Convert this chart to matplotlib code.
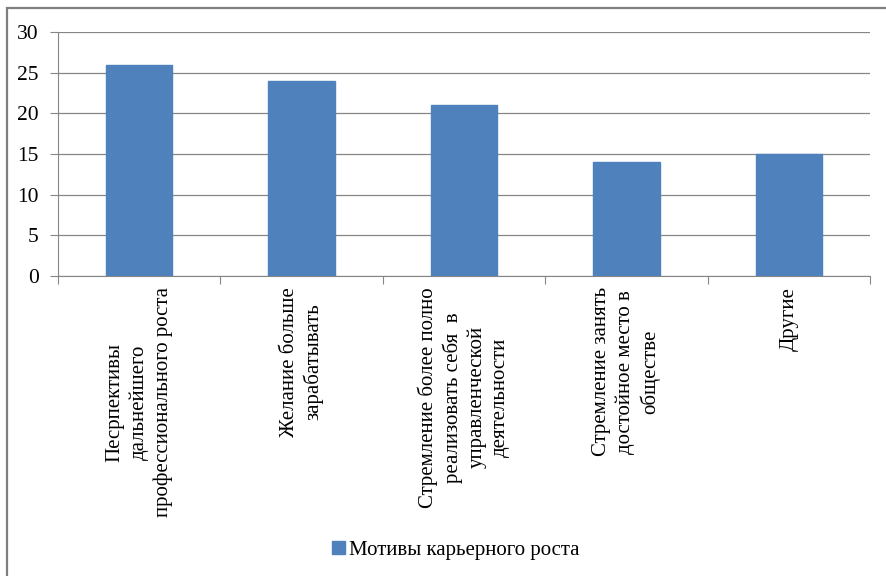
import matplotlib.pyplot as plt
from matplotlib.patches import Rectangle

categories = [
    "Песрпективы\nдальнейшего\nпрофессионального роста",
    "Желание больше\nзарабатывать",
    "Стремление более полно\nреализовать себя  в\nуправленческой\nдеятельности",
    "Стремление занять\nдостойное место в\nобществе",
    "Другие",
]
values = [26, 24, 21, 14, 15]
series_name = "Мотивы карьерного роста"

plt.rcParams['font.family'] = ['Liberation Serif', 'DejaVu Serif']

fig = plt.figure(figsize=(8.86, 5.76), dpi=100)
ax = fig.add_axes([58 / 886, 1 - 276 / 576, 812 / 886, 244 / 576])

x = list(range(len(categories)))
ax.bar(x, values, width=0.41, color='#4f81bd', edgecolor='#4f81bd', zorder=3, label=series_name)

ax.set_xlim(-0.5, len(categories) - 0.5)
ax.set_ylim(0, 30)
ax.set_yticks(range(0, 31, 5))
ax.grid(axis='y', color='#868686', linewidth=0.9, zorder=0)
ax.tick_params(axis='y', labelsize=15.5, length=6, color='#868686', pad=8)

ax.set_xticks([i - 0.5 for i in range(len(categories) + 1)])
ax.set_xticklabels([])
ax.tick_params(axis='x', length=6, color='#868686')
for i, lab in enumerate(categories):
    ax.annotate(lab, xy=(i, 0), xycoords=('data', 'axes fraction'),
                xytext=(0, -8), textcoords='offset points',
                rotation=90, ha='center', va='top', multialignment='center',
                fontsize=15, linespacing=1.3)

for s in ['top', 'right']:
    ax.spines[s].set_visible(False)
for s in ['left', 'bottom']:
    ax.spines[s].set_color('#868686')

fig.legend(loc='center', bbox_to_anchor=(456 / 886, 1 - 550 / 576), frameon=False,
           fontsize=15, handlelength=0.6, handleheight=0.6, handletextpad=0.2)

# outer chart border, cropped on right and bottom
fig.patches.append(Rectangle((6.5 / 886, -0.05), 1.0, 1.05 - 8 / 576, transform=fig.transFigure,
                             facecolor='none', edgecolor='#7f7f7f', linewidth=1.6))

fig.savefig('out.png', dpi=100)
